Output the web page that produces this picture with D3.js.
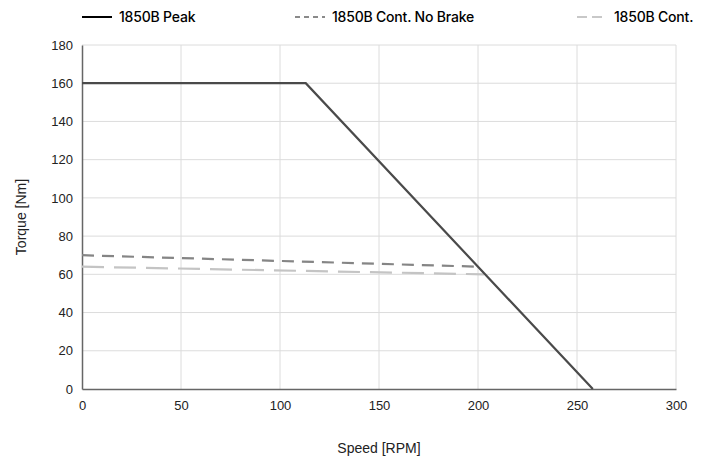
<!DOCTYPE html>
<html><head><meta charset="utf-8">
<script src="https://cdn.jsdelivr.net/npm/d3@7"></script>
<style>body{margin:0;background:#fff}</style>
</head><body>
<svg id="c" width="711" height="461"></svg>
<script>
const xTicks = [0, 50, 100, 150, 200, 250, 300];
const yTicks = [0, 20, 40, 60, 80, 100, 120, 140, 160, 180];
const seriesNames = ["1850B Peak", "1850B Cont. No Brake", "1850B Cont."];
const peakSpeed = [0, 113, 258];
const peakTorque = [160, 160, 0];
const noBrakeSpeed = [0, 200];
const noBrakeTorque = [70, 64];
const contSpeed = [0, 203];
const contTorque = [64, 60];

const styles = [
  {color: "#4a4a4a", width: 2.2, dash: null},
  {color: "#858585", width: 2.2, dash: "12,8"},
  {color: "#c4c4c4", width: 2.2, dash: "22,10"}
];
const svg = d3.select("#c");
const m = {l: 82, r: 35, t: 45, b: 72};
const W = 711, H = 461;
const x = d3.scaleLinear().domain([0, 300]).range([m.l, W - m.r]);
const y = d3.scaleLinear().domain([0, 180]).range([H - m.b, m.t]);

// grid
svg.append("g").selectAll("line").data(yTicks.filter(d => d > 0)).join("line")
  .attr("x1", x(0)).attr("x2", x(300)).attr("y1", d => y(d)).attr("y2", d => y(d))
  .attr("stroke", "#dcdcdc").attr("stroke-width", 1);
svg.append("g").selectAll("line").data(xTicks.filter(d => d > 0)).join("line")
  .attr("y1", y(0)).attr("y2", y(180)).attr("x1", d => x(d)).attr("x2", d => x(d))
  .attr("stroke", "#dcdcdc").attr("stroke-width", 1);

// axes
const xa = svg.append("g").attr("transform", `translate(0,${y(0)})`)
  .call(d3.axisBottom(x).tickValues(xTicks).tickSize(0).tickPadding(12));
const ya = svg.append("g").attr("transform", `translate(${x(0)},0)`)
  .call(d3.axisLeft(y).tickValues(yTicks).tickSize(0).tickPadding(9));
[xa, ya].forEach(a => {
  a.select(".domain").attr("stroke", "#666").attr("stroke-width", 1.5);
  a.selectAll("text").attr("font-family", "Liberation Sans, Arial, sans-serif")
    .attr("font-size", 13).attr("fill", "#222");
});

// lines
const data = [
  peakSpeed.map((s, i) => [s, peakTorque[i]]),
  noBrakeSpeed.map((s, i) => [s, noBrakeTorque[i]]),
  contSpeed.map((s, i) => [s, contTorque[i]])
];
const line = d3.line().x(d => x(d[0])).y(d => y(d[1]));
[2, 1, 0].forEach(i => {
  svg.append("path").attr("d", line(data[i])).attr("fill", "none")
    .attr("stroke", styles[i].color).attr("stroke-width", styles[i].width)
    .attr("stroke-dasharray", styles[i].dash);
});

// axis titles
svg.append("text").attr("x", (x(0) + x(300)) / 2).attr("y", 453)
  .attr("text-anchor", "middle").attr("font-family", "Liberation Sans, Arial, sans-serif")
  .attr("font-size", 14).attr("fill", "#222").text("Speed [RPM]");
svg.append("text").attr("transform", `translate(26,${(y(0) + y(180)) / 2}) rotate(-90)`)
  .attr("text-anchor", "middle").attr("font-family", "Liberation Sans, Arial, sans-serif")
  .attr("font-size", 14).attr("fill", "#222").text("Torque [Nm]");

// legend
const legX = [82, 295, 577];
const legDash = [null, "5,4", "10,5"];
const legColor = ["#000", "#8a8a8a", "#c8c8c8"];
seriesNames.forEach((n, i) => {
  const g = svg.append("g").attr("transform", `translate(${legX[i]},17)`);
  g.append("line").attr("x1", 0).attr("x2", 30).attr("y1", 0).attr("y2", 0)
    .attr("stroke", legColor[i]).attr("stroke-width", 2).attr("stroke-dasharray", legDash[i]);
  g.append("text").attr("x", 37).attr("y", 5).attr("font-family", "Inter, sans-serif")
    .attr("font-size", 14).attr("font-weight", 500).attr("letter-spacing", -0.2)
    .attr("fill", "#000").text(n);
});
</script>
</body></html>
